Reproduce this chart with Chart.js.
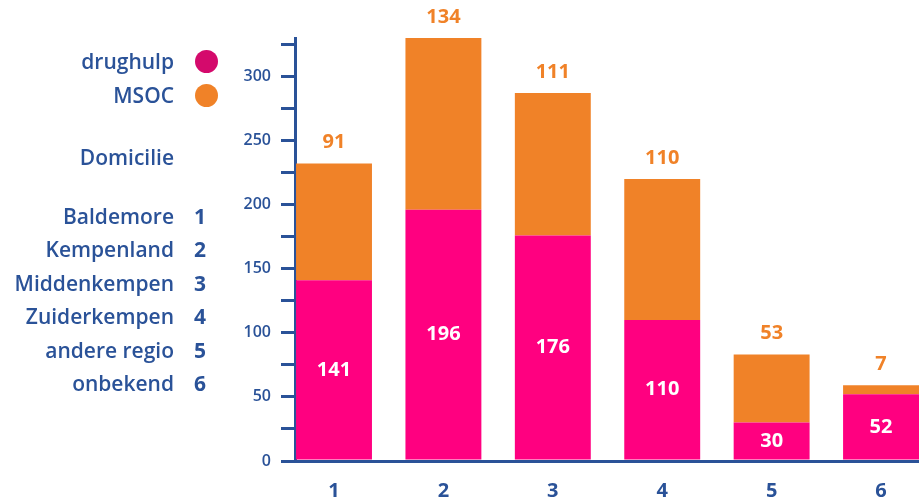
<!DOCTYPE html>
<html>
<head>
<meta charset="utf-8">
<script src="https://cdn.jsdelivr.net/npm/chart.js@4/dist/chart.umd.min.js"></script>
<style>
  html, body { margin: 0; padding: 0; background: #fff; }
  .wrap { position: relative; width: 919px; height: 503px; font-family: "Open Sans", sans-serif; color: #2a5298; }
  #myChart { position: absolute; left: 0; top: 0; }
  .lbl { position: absolute; right: 745px; font-size: 21px; font-weight: 600; line-height: 24px; white-space: nowrap; }
  .num { position: absolute; left: 194px; font-size: 21px; font-weight: 700; line-height: 24px; }
  .dot { position: absolute; left: 195px; width: 23px; height: 23px; border-radius: 50%; }
</style>
</head>
<body>
<div class="wrap">
  <canvas id="myChart" width="919" height="503"></canvas>
  <div id="legend"></div>
</div>
<script>
// values for the chart
const categories = [1, 2, 3, 4, 5, 6];
const regions = ['Baldemore', 'Kempenland', 'Middenkempen', 'Zuiderkempen', 'andere regio', 'onbekend'];
const drughulp = [141, 196, 176, 110, 30, 52];
const msoc = [91, 134, 111, 110, 53, 7];
const seriesNames = ['drughulp', 'MSOC'];
const yTicks = [0, 50, 100, 150, 200, 250, 300];

const blue = '#2a5298';
const pink = '#ff0080';
const orange = '#f08228';

// legend on the left, as html text
const legend = document.getElementById('legend');
let html = '';
html += '<div class="lbl" style="top:49px">' + seriesNames[0] + '</div>';
html += '<div class="dot" style="top:50px;background:#d40a6c"></div>';
html += '<div class="lbl" style="top:83px">' + seriesNames[1] + '</div>';
html += '<div class="dot" style="top:84px;background:' + orange + '"></div>';
html += '<div class="lbl" style="top:145px">Domicilie</div>';
regions.forEach((r, i) => {
    const top = 204 + i * 33.4;
    html += '<div class="lbl" style="top:' + top + 'px">' + r + '</div>';
    html += '<div class="num" style="top:' + top + 'px">' + categories[i] + '</div>';
});
legend.innerHTML = html;

// labels in and above the bars
const barLabels = {
    id: 'barLabels',
    afterDatasetsDraw(chart) {
        const ctx = chart.ctx;
        ctx.save();
        ctx.font = '700 20px "Open Sans"';
        ctx.textAlign = 'center';
        ctx.textBaseline = 'middle';
        chart.getDatasetMeta(0).data.forEach((bar, i) => {
            ctx.fillStyle = '#ffffff';
            ctx.fillText(String(drughulp[i]), bar.x, (bar.y + bar.base) / 2);
        });
        chart.getDatasetMeta(1).data.forEach((bar, i) => {
            ctx.fillStyle = orange;
            ctx.fillText(String(msoc[i]), bar.x, bar.y - 21);
        });
        ctx.restore();
    }
};

const ctx = document.getElementById('myChart').getContext('2d');
new Chart(ctx, {
    type: 'bar',
    data: {
        datasets: [
            {
                label: seriesNames[0],
                data: categories.map((c, i) => ({ x: c, y: drughulp[i] })),
                backgroundColor: pink
            },
            {
                label: seriesNames[1],
                data: categories.map((c, i) => ({ x: c, y: msoc[i] })),
                backgroundColor: orange
            }
        ]
    },
    options: {
        responsive: false,
        animation: false,
        barPercentage: 0.694,
        categoryPercentage: 1,
        layout: { padding: { top: 38, left: 0, right: 0, bottom: 0 } },
        plugins: {
            legend: { display: false },
            tooltip: { enabled: false }
        },
        scales: {
            x: {
                type: 'linear',
                stacked: true,
                offset: false,
                min: 0.6435,
                max: 6.347,
                afterFit: (scale) => { scale.height = 42; },
                grid: { display: false, drawTicks: false, offset: false },
                border: { display: true, color: blue, width: 3 },
                ticks: {
                    stepSize: 1,
                    includeBounds: false,
                    padding: 18,
                    color: blue,
                    font: { family: 'Open Sans', size: 20, weight: 700 },
                    callback: (v) => (categories.includes(v) ? String(v) : '')
                }
            },
            y: {
                stacked: true,
                min: 0,
                max: 330,
                afterFit: (scale) => { scale.width = 295; },
                grid: { drawOnChartArea: false, drawTicks: true, tickLength: 14, color: blue, lineWidth: 3 },
                border: { display: true, color: blue, width: 3 },
                ticks: {
                    stepSize: 12.5,
                    includeBounds: false,
                    padding: 10,
                    color: blue,
                    font: { family: 'Open Sans', size: 16, weight: 600 },
                    callback: (v) => (yTicks.includes(v) ? String(v) : '')
                }
            }
        }
    },
    plugins: [barLabels]
});
</script>
</body>
</html>
